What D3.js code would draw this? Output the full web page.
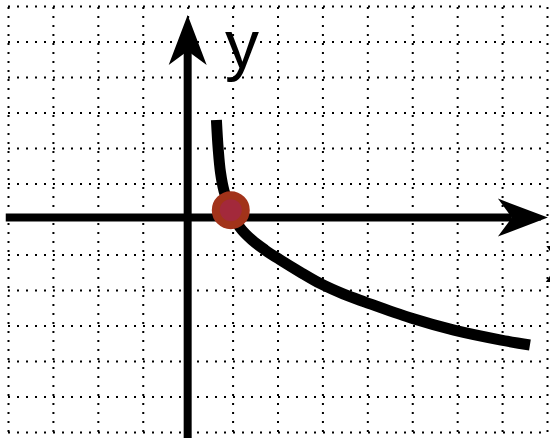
<!DOCTYPE html>
<html lang="en">
<head>
<meta charset="UTF-8">
<title>Decreasing logarithmic curve</title>
<style>
  body { margin: 0; padding: 0; background: #fff; }
  svg { display: block; }
  .grid line { stroke: #000; stroke-width: 2; stroke-dasharray: 2,7; }
  .grid .domain { display: none; }
  .axis-line { stroke: #000; stroke-width: 8; }
  .curve { fill: none; stroke: #000; stroke-width: 11; stroke-linecap: butt; }
  .label { font-family: "Liberation Sans", Arial, sans-serif; font-size: 68px; fill: #000; }
</style>
</head>
<body>
<svg id="chart"></svg>
<script src="https://d3js.org/d3.v7.min.js"></script>
<script>
// grid positions (units)
const xTicks = [-4, -3, -2, -1, 0, 1, 2, 3, 4, 5, 6, 7, 8];
const yTicks = [-6, -5, -4, -3, -2, -1, 0, 1, 2, 3, 4, 5, 6];

// curve
const curveX = [0.64, 0.68, 0.73, 0.81, 0.96, 1.17, 1.43, 1.72, 2.06, 2.50, 2.97, 3.46, 3.95, 4.97, 5.93, 6.98, 7.62];
const curveY = [2.79, 1.97, 1.32, 0.79, 0.25, -0.25, -0.59, -0.87, -1.15, -1.49, -1.83, -2.11, -2.34, -2.79, -3.13, -3.41, -3.55];

// highlighted point
const pointX = [0.96];
const pointY = [0.25];

const axisLabels = ["x", "y"];

const W = 550, H = 438;

const svg = d3.select("#chart")
    .attr("width", W)
    .attr("height", H);

const x = d3.scaleLinear().domain([-4, 8]).range([8, 547]);
const y = d3.scaleLinear().domain([-6, 6]).range([432, 6]);

// dotted grid
svg.append("g")
    .attr("class", "grid")
    .attr("transform", `translate(0,${y(-6)})`)
    .call(d3.axisBottom(x).tickValues(xTicks).tickSize(-(y(-6) - y(6))).tickFormat(""));

svg.append("g")
    .attr("class", "grid")
    .attr("transform", `translate(${x(-4)},0)`)
    .call(d3.axisLeft(y).tickValues(yTicks).tickSize(-(x(8) - x(-4))).tickFormat(""));

// axes with arrow heads
const arrowLen = 50, arrowHalf = 19, notch = 36;

const xTip = x(8.02), y0 = y(0.04);
svg.append("line")
    .attr("class", "axis-line")
    .attr("x1", x(-4.05)).attr("x2", xTip - notch)
    .attr("y1", y0).attr("y2", y0);
svg.append("path")
    .attr("d", `M${xTip},${y0} L${xTip - arrowLen},${y0 - arrowHalf} L${xTip - notch},${y0} L${xTip - arrowLen},${y0 + arrowHalf} Z`)
    .attr("fill", "#000");

const yTip = y(5.75), x0 = x(0);
svg.append("line")
    .attr("class", "axis-line")
    .attr("x1", x0).attr("x2", x0)
    .attr("y1", H).attr("y2", yTip + notch);
svg.append("path")
    .attr("d", `M${x0},${yTip} L${x0 - arrowHalf},${yTip + arrowLen} L${x0},${yTip + notch} L${x0 + arrowHalf},${yTip + arrowLen} Z`)
    .attr("fill", "#000");

// axis labels (x sits at the right edge, mostly cut off as in the original)
svg.append("text").attr("class", "label")
    .attr("x", x(8) - 2).attr("y", 282)
    .text(axisLabels[0]);
svg.append("text").attr("class", "label")
    .attr("x", 225).attr("y", 68)
    .text(axisLabels[1]);

// curve
const pts = curveX.map((v, i) => [v, curveY[i]]);
svg.append("path")
    .attr("class", "curve")
    .attr("d", d3.line()
        .x(d => x(d[0]))
        .y(d => y(d[1]))
        .curve(d3.curveCatmullRom.alpha(0.5))(pts));

// point
svg.selectAll(".pt")
    .data(pointX.map((v, i) => [v, pointY[i]]))
    .join("circle")
    .attr("class", "pt")
    .attr("cx", d => x(d[0]))
    .attr("cy", d => y(d[1]))
    .attr("r", 15)
    .attr("fill", "#a3293b")
    .attr("stroke", "#a2331a")
    .attr("stroke-width", 8);
</script>
</body>
</html>
